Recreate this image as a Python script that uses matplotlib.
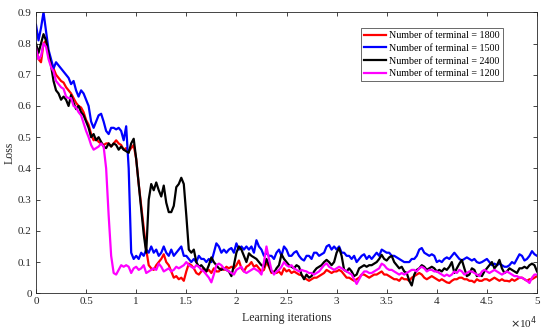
import numpy as np
import matplotlib
matplotlib.use("Agg")
import matplotlib.pyplot as plt

iterations = np.arange(0, 50001, 250)

loss_1800 = [
    0.79, 0.75, 0.74, 0.80, 0.81, 0.77, 0.74, 0.72, 0.70, 0.69, 0.68, 0.675, 0.66, 0.65, 0.64, 0.625, 0.61, 0.60, 0.595, 0.58,
    0.555, 0.54, 0.51, 0.49, 0.495, 0.485, 0.48, 0.475, 0.48, 0.48, 0.47, 0.48, 0.49, 0.48, 0.475, 0.46, 0.465, 0.455, 0.465, 0.475,
    0.43, 0.35, 0.28, 0.21, 0.14, 0.09, 0.08, 0.075, 0.09, 0.10, 0.11, 0.125, 0.10, 0.09, 0.07, 0.05, 0.055, 0.045, 0.05, 0.04,
    0.07, 0.095, 0.09, 0.08, 0.065, 0.06, 0.07, 0.08, 0.07, 0.075, 0.065, 0.08, 0.07, 0.07, 0.08, 0.075, 0.085, 0.08, 0.085, 0.08,
    0.09, 0.105, 0.08, 0.07, 0.085, 0.09, 0.10, 0.085, 0.09, 0.08, 0.07, 0.075, 0.10, 0.085, 0.065, 0.07, 0.065, 0.07, 0.06, 0.08,
    0.07, 0.075, 0.065, 0.07, 0.065, 0.06, 0.058, 0.05, 0.045, 0.04, 0.045, 0.05, 0.05, 0.055, 0.06, 0.065, 0.075, 0.07, 0.065, 0.07,
    0.07, 0.075, 0.07, 0.06, 0.05, 0.05, 0.045, 0.04, 0.045, 0.05, 0.06, 0.06, 0.055, 0.05, 0.055, 0.06, 0.06, 0.065, 0.07, 0.06,
    0.06, 0.055, 0.05, 0.045, 0.045, 0.04, 0.05, 0.045, 0.045, 0.04, 0.05, 0.055, 0.06, 0.065, 0.06, 0.05, 0.045, 0.05, 0.055, 0.05,
    0.045, 0.04, 0.045, 0.04, 0.035, 0.033, 0.04, 0.045, 0.045, 0.05, 0.05, 0.045, 0.045, 0.04, 0.04, 0.035, 0.045, 0.04, 0.04, 0.045,
    0.045, 0.04, 0.045, 0.05, 0.045, 0.04, 0.045, 0.04, 0.04, 0.038, 0.045, 0.04, 0.045, 0.05, 0.05, 0.045, 0.04, 0.045, 0.045, 0.05, 0.055,
]

loss_1500 = [
    0.86, 0.81, 0.85, 0.90, 0.84, 0.78, 0.75, 0.72, 0.74, 0.73, 0.72, 0.71, 0.70, 0.69, 0.67, 0.68, 0.65, 0.63, 0.65, 0.64,
    0.62, 0.60, 0.55, 0.53, 0.55, 0.57, 0.575, 0.55, 0.52, 0.51, 0.53, 0.53, 0.525, 0.53, 0.52, 0.49, 0.535, 0.40, 0.13, 0.11,
    0.12, 0.11, 0.13, 0.12, 0.14, 0.13, 0.15, 0.13, 0.14, 0.12, 0.13, 0.15, 0.13, 0.12, 0.14, 0.12, 0.13, 0.14, 0.15, 0.12,
    0.12, 0.11, 0.10, 0.11, 0.10, 0.12, 0.11, 0.11, 0.10, 0.11, 0.10, 0.13, 0.16, 0.15, 0.13, 0.14, 0.13, 0.14, 0.145, 0.13,
    0.16, 0.14, 0.15, 0.14, 0.15, 0.14, 0.15, 0.13, 0.17, 0.15, 0.14, 0.12, 0.13, 0.12, 0.12, 0.11, 0.13, 0.14, 0.12, 0.15,
    0.14, 0.12, 0.12, 0.13, 0.135, 0.12, 0.11, 0.105, 0.12, 0.12, 0.11, 0.13, 0.13, 0.12, 0.125, 0.13, 0.15, 0.155, 0.14, 0.15,
    0.14, 0.15, 0.13, 0.13, 0.12, 0.12, 0.11, 0.12, 0.10, 0.11, 0.12, 0.125, 0.11, 0.12, 0.11, 0.12, 0.13, 0.12, 0.14, 0.135,
    0.13, 0.13, 0.12, 0.12, 0.115, 0.11, 0.105, 0.10, 0.10, 0.10, 0.11, 0.11, 0.12, 0.14, 0.145, 0.13, 0.125, 0.12, 0.125, 0.12,
    0.10, 0.105, 0.10, 0.11, 0.115, 0.11, 0.12, 0.13, 0.12, 0.11, 0.105, 0.11, 0.115, 0.11, 0.105, 0.11, 0.10, 0.097, 0.10, 0.105,
    0.11, 0.10, 0.09, 0.095, 0.09, 0.095, 0.09, 0.085, 0.085, 0.09, 0.10, 0.095, 0.11, 0.125, 0.12, 0.105, 0.11, 0.12, 0.135, 0.125, 0.12,
]

loss_2400 = [
    0.80, 0.77, 0.80, 0.83, 0.81, 0.77, 0.73, 0.68, 0.65, 0.64, 0.62, 0.63, 0.62, 0.60, 0.635, 0.61, 0.59, 0.60, 0.58, 0.57,
    0.55, 0.53, 0.50, 0.51, 0.49, 0.50, 0.485, 0.47, 0.465, 0.48, 0.47, 0.48, 0.475, 0.46, 0.47, 0.46, 0.455, 0.45, 0.48, 0.495,
    0.43, 0.35, 0.27, 0.19, 0.13, 0.30, 0.35, 0.33, 0.355, 0.33, 0.31, 0.345, 0.29, 0.26, 0.26, 0.28, 0.34, 0.35, 0.37, 0.35,
    0.25, 0.14, 0.13, 0.14, 0.10, 0.085, 0.09, 0.08, 0.07, 0.09, 0.115, 0.10, 0.09, 0.08, 0.075, 0.08, 0.075, 0.07, 0.055, 0.09,
    0.13, 0.15, 0.14, 0.12, 0.10, 0.128, 0.12, 0.115, 0.11, 0.10, 0.09, 0.085, 0.11, 0.09, 0.07, 0.065, 0.08, 0.09, 0.125, 0.11,
    0.10, 0.09, 0.085, 0.08, 0.09, 0.085, 0.06, 0.045, 0.06, 0.05, 0.055, 0.07, 0.08, 0.085, 0.09, 0.10, 0.107, 0.10, 0.09, 0.10,
    0.13, 0.145, 0.12, 0.075, 0.07, 0.08, 0.07, 0.055, 0.06, 0.08, 0.085, 0.09, 0.085, 0.09, 0.09, 0.095, 0.10, 0.11, 0.123, 0.11,
    0.105, 0.115, 0.12, 0.10, 0.09, 0.08, 0.085, 0.07, 0.065, 0.04, 0.025, 0.06, 0.075, 0.08, 0.09, 0.085, 0.075, 0.08, 0.085, 0.08,
    0.07, 0.075, 0.07, 0.08, 0.075, 0.085, 0.10, 0.065, 0.08, 0.095, 0.107, 0.08, 0.055, 0.06, 0.08, 0.075, 0.055, 0.06, 0.055, 0.07,
    0.08, 0.09, 0.10, 0.08, 0.09, 0.107, 0.08, 0.065, 0.07, 0.08, 0.075, 0.07, 0.065, 0.08, 0.08, 0.085, 0.08, 0.09, 0.095, 0.09, 0.07,
]

loss_1200 = [
    0.785, 0.75, 0.76, 0.80, 0.79, 0.75, 0.725, 0.71, 0.68, 0.67, 0.66, 0.655, 0.63, 0.625, 0.625, 0.60, 0.595, 0.58, 0.57, 0.545,
    0.52, 0.50, 0.475, 0.46, 0.465, 0.47, 0.48, 0.47, 0.40, 0.25, 0.12, 0.065, 0.06, 0.075, 0.09, 0.085, 0.09, 0.085, 0.065, 0.08,
    0.085, 0.075, 0.08, 0.09, 0.065, 0.07, 0.075, 0.08, 0.075, 0.095, 0.085, 0.07, 0.075, 0.08, 0.07, 0.075, 0.085, 0.08, 0.085, 0.09,
    0.10, 0.09, 0.085, 0.08, 0.09, 0.085, 0.075, 0.07, 0.06, 0.05, 0.035, 0.06, 0.09, 0.095, 0.09, 0.08, 0.075, 0.07, 0.065, 0.06,
    0.075, 0.08, 0.085, 0.07, 0.065, 0.07, 0.075, 0.08, 0.075, 0.07, 0.06, 0.10, 0.15, 0.11, 0.075, 0.06, 0.07, 0.075, 0.085, 0.10,
    0.09, 0.085, 0.09, 0.08, 0.075, 0.07, 0.075, 0.072, 0.07, 0.065, 0.065, 0.06, 0.065, 0.07, 0.08, 0.09, 0.096, 0.085, 0.08, 0.075,
    0.08, 0.085, 0.08, 0.075, 0.07, 0.065, 0.06, 0.045, 0.03, 0.045, 0.06, 0.07, 0.07, 0.065, 0.065, 0.07, 0.075, 0.08, 0.095, 0.09,
    0.08, 0.075, 0.075, 0.07, 0.065, 0.06, 0.065, 0.06, 0.065, 0.07, 0.075, 0.075, 0.07, 0.08, 0.085, 0.08, 0.07, 0.075, 0.075, 0.07,
    0.07, 0.065, 0.06, 0.055, 0.06, 0.055, 0.06, 0.07, 0.065, 0.075, 0.07, 0.06, 0.065, 0.07, 0.07, 0.065, 0.06, 0.055, 0.07, 0.075,
    0.07, 0.065, 0.07, 0.075, 0.07, 0.065, 0.06, 0.065, 0.07, 0.065, 0.06, 0.055, 0.055, 0.05, 0.05, 0.045, 0.04, 0.033, 0.05, 0.06, 0.06,
]

series_labels = ["Number of terminal = 1800", "Number of terminal = 1500",
                 "Number of terminal = 2400", "Number of terminal = 1200"]
series_colors = ["#ff0000", "#0000ff", "#000000", "#ff00ff"]
x_tick_values = [0, 5000, 10000, 15000, 20000, 25000, 30000, 35000, 40000, 45000, 50000]
x_tick_labels = ["0", "0.5", "1", "1.5", "2", "2.5", "3", "3.5", "4", "4.5", "5"]
y_tick_values = [0, 0.1, 0.2, 0.3, 0.4, 0.5, 0.6, 0.7, 0.8, 0.9]
y_tick_labels = ["0", "0.1", "0.2", "0.3", "0.4", "0.5", "0.6", "0.7", "0.8", "0.9"]

plt.rcParams['font.family'] = ['Liberation Serif', 'DejaVu Serif']

fig = plt.figure(figsize=(5.5, 3.34), dpi=100)
ax = fig.add_axes([36/550, (334-293.3)/334, (537-36)/550, (293.3-12.3)/334])

for vals, lab, col in zip([loss_1800, loss_1500, loss_2400, loss_1200], series_labels, series_colors):
    ax.plot(iterations, vals, color=col, lw=1.6, label=lab)

ax.set_xlim(0, 50000)
ax.set_ylim(0, 0.9)
ax.set_xticks(x_tick_values)
ax.set_xticklabels(x_tick_labels)
ax.set_yticks(y_tick_values)
ax.set_yticklabels(y_tick_labels)
edge = "#262626"
ax.tick_params(direction='in', top=True, right=True, length=3, width=0.6,
               labelsize=8, colors=edge, pad=3)
for s in ax.spines.values():
    s.set_color(edge)
    s.set_linewidth(0.6)

ax.set_xlabel("Learning iterations", fontsize=8.5, color=edge, labelpad=4)
ax.set_ylabel("Loss", fontsize=8.5, color=edge, labelpad=2)
ax.text(1.0, -0.075, r"$\times$10$^{4}$", transform=ax.transAxes, ha='right', va='top',
        fontsize=8, color=edge)

leg = ax.legend(loc='upper right', bbox_to_anchor=(503/550, (334-28)/334),
                bbox_transform=fig.transFigure, fontsize=7.2, frameon=True,
                fancybox=False, edgecolor=edge, handlelength=2.2, handletextpad=0.3,
                borderpad=0.3, labelspacing=0.38, borderaxespad=0)
leg.get_frame().set_linewidth(0.6)

fig.savefig("out.png", dpi=100)
